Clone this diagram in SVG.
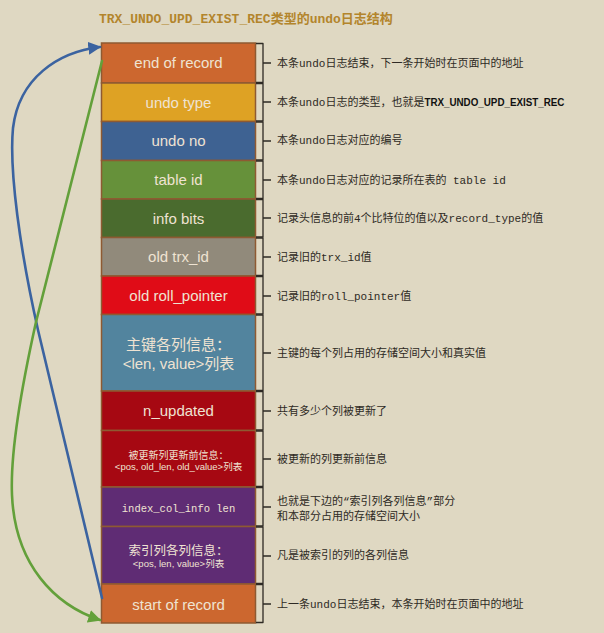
<svg xmlns="http://www.w3.org/2000/svg" width="604" height="633" viewBox="0 0 604 633">
<defs>
<style>
.bg{fill:#DFD8C2}
.box{stroke:#8E5A32;stroke-width:1.5}
.lbl{font-family:"Liberation Sans","Noto Sans CJK SC",sans-serif;fill:#EFE3D2;text-anchor:middle}
.mono{font-family:"Liberation Mono","Noto Sans CJK SC",monospace}
.desc{font-family:"Liberation Mono","Noto Sans CJK SC",monospace;font-size:11px;fill:#2E2A24}
.br{fill:none;stroke:#2E2A24;stroke-width:1.3;stroke-linejoin:round}
.title{font-family:"Liberation Mono","Noto Sans CJK SC",monospace;font-size:13px;font-weight:bold;fill:#B3852C}
.conn{fill:none;stroke-width:2.6;stroke-linecap:round}
</style>
<marker id="ab" viewBox="0 0 10 10" refX="9" refY="5" markerWidth="5" markerHeight="5" orient="auto" markerUnits="strokeWidth">
<path d="M0,0 L10,5 L0,10 z" fill="#3B63A0"/>
</marker>
<marker id="ag" viewBox="0 0 10 10" refX="9" refY="5" markerWidth="5" markerHeight="5" orient="auto" markerUnits="strokeWidth">
<path d="M0,0 L10,5 L0,10 z" fill="#63A03A"/>
</marker>
</defs>
<rect class="bg" x="0" y="0" width="604" height="633"/>
<text class="title" x="99" y="23">TRX_UNDO_UPD_EXIST_REC类型的undo日志结构</text>

<g id="n-end"><rect class="box" x="101.5" y="43" width="154" height="40" fill="#CC672F"/><text class="lbl" x="178.5" y="68" font-size="15">end of record</text></g>
<g id="n-type"><rect class="box" x="101.5" y="83" width="154" height="38.5" fill="#DEA224"/><text class="lbl" x="178.5" y="107.5" font-size="15">undo type</text></g>
<g id="n-no"><rect class="box" x="101.5" y="121.5" width="154" height="39" fill="#3E6292"/><text class="lbl" x="178.5" y="146" font-size="15">undo no</text></g>
<g id="n-table"><rect class="box" x="101.5" y="160.5" width="154" height="38.5" fill="#66913A"/><text class="lbl" x="178.5" y="185" font-size="15">table id</text></g>
<g id="n-info"><rect class="box" x="101.5" y="199" width="154" height="38.5" fill="#4A6B2E"/><text class="lbl" x="178.5" y="223.5" font-size="15">info bits</text></g>
<g id="n-trx"><rect class="box" x="101.5" y="237.5" width="154" height="38.5" fill="#918A7B"/><text class="lbl" x="178.5" y="262" font-size="15">old trx_id</text></g>
<g id="n-roll"><rect class="box" x="101.5" y="276" width="154" height="38.5" fill="#E00C17"/><text class="lbl" x="178.5" y="300.5" font-size="15">old roll_pointer</text></g>
<g id="n-pk"><rect class="box" x="101.5" y="314.5" width="154" height="76.5" fill="#52849E"/><text class="lbl" x="178.5" y="350" font-size="15">主键各列信息：</text><text class="lbl" x="178.5" y="369" font-size="15">&lt;len, value&gt;列表</text></g>
<g id="n-nupd"><rect class="box" x="101.5" y="391" width="154" height="39.5" fill="#A60812"/><text class="lbl" x="178.5" y="416" font-size="15">n_updated</text></g>
<g id="n-upd"><rect class="box" x="101.5" y="430.5" width="154" height="56.5" fill="#A60812"/><text class="lbl" x="178.5" y="459" font-size="10">被更新列更新前信息：</text><text class="lbl" x="178.5" y="470" font-size="9.5">&lt;pos, old_len, old_value&gt;列表</text></g>
<g id="n-icl"><rect class="box" x="101.5" y="487" width="154" height="39.5" fill="#5F2C74"/><text class="lbl mono" x="178.5" y="511.5" font-size="10.5">index_col_info len</text></g>
<g id="n-idx"><rect class="box" x="101.5" y="526.5" width="154" height="57.5" fill="#5F2C74"/><text class="lbl" x="178.5" y="555" font-size="12.5">索引列各列信息：</text><text class="lbl" x="178.5" y="566.5" font-size="9.5">&lt;pos, len, value&gt;列表</text></g>
<g id="n-start"><rect class="box" x="101.5" y="584" width="154" height="39" fill="#CC672F"/><text class="lbl" x="178.5" y="610" font-size="15">start of record</text></g>

<g id="brackets">
<path class="br" d="M256,43.5 H263 V82.5 H256 M263,63 H271"/>
<path class="br" d="M256,83.5 H263 V121 H256 M263,102 H271"/>
<path class="br" d="M256,122 H263 V160 H256 M263,141 H271"/>
<path class="br" d="M256,161 H263 V198.5 H256 M263,180 H271"/>
<path class="br" d="M256,199.5 H263 V237 H256 M263,218 H271"/>
<path class="br" d="M256,238 H263 V275.5 H256 M263,257 H271"/>
<path class="br" d="M256,276.5 H263 V314 H256 M263,296 H271"/>
<path class="br" d="M256,315 H263 V390.5 H256 M263,353 H271"/>
<path class="br" d="M256,391.5 H263 V430 H256 M263,411 H271"/>
<path class="br" d="M256,431 H263 V486.5 H256 M263,459 H271"/>
<path class="br" d="M256,487.5 H263 V526 H256 M263,507 H271"/>
<path class="br" d="M256,527 H263 V583.5 H256 M263,556 H271"/>
<path class="br" d="M256,584.5 H263 V622.5 H256 M263,604 H271"/>
</g>

<g id="descriptions">
<text class="desc" x="277" y="67">本条undo日志结束，下一条开始时在页面中的地址</text>
<text class="desc" x="277" y="106">本条undo日志的类型，也就是<tspan font-family="Liberation Sans,sans-serif" font-weight="bold" font-size="11.5" fill="#111" textLength="140" lengthAdjust="spacingAndGlyphs">TRX_UNDO_UPD_EXIST_REC</tspan></text>
<text class="desc" x="277" y="144">本条undo日志对应的编号</text>
<text class="desc" x="277" y="184">本条undo日志对应的记录所在表的 table id</text>
<text class="desc" x="277" y="222">记录头信息的前4个比特位的值以及record_type的值</text>
<text class="desc" x="277" y="261">记录旧的trx_id值</text>
<text class="desc" x="277" y="300">记录旧的roll_pointer值</text>
<text class="desc" x="277" y="357">主键的每个列占用的存储空间大小和真实值</text>
<text class="desc" x="277" y="415">共有多少个列被更新了</text>
<text class="desc" x="277" y="463">被更新的列更新前信息</text>
<text class="desc" x="277" y="505">也就是下边的“索引列各列信息”部分</text>
<text class="desc" x="277" y="520">和本部分占用的存储空间大小</text>
<text class="desc" x="277" y="559">凡是被索引的列的各列信息</text>
<text class="desc" x="277" y="608">上一条undo日志结束，本条开始时在页面中的地址</text>
</g>

<g id="connectors">
<path class="conn" stroke="#3B63A0" marker-end="url(#ab)" d="M102,598 L38,330 C 20,250 9,170 13,128 C 19,78 58,52 100,47"/>
<path class="conn" stroke="#63A03A" marker-end="url(#ag)" d="M102,61 L36,322 C 22,385 10,450 12,495 C 15,565 55,605 100,620"/>
</g>
</svg>
